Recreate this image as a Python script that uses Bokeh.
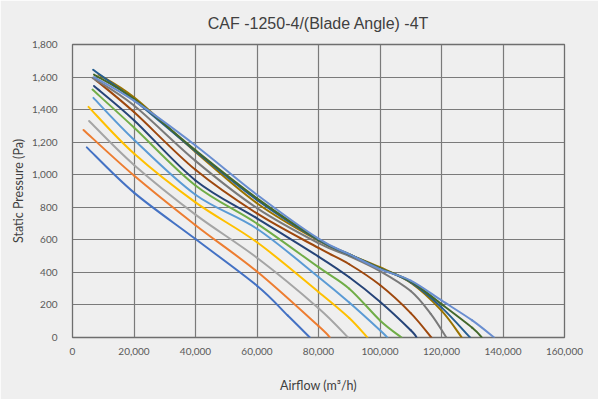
from bokeh.plotting import figure
from bokeh.models import NumeralTickFormatter, FixedTicker, Range1d
from bokeh.embed import file_html
from bokeh.resources import INLINE

colors = ["#4472C4", "#ED7D31", "#A5A5A5", "#FFC000", "#5B9BD5", "#70AD47",
          "#264478", "#9E480E", "#7A7A7A", "#997300", "#255E91", "#43682B", "#698ED0"]

c1_x = [4650, 20000, 40000, 60000, 70000, 77200]
c1_y = [1168, 890, 605, 318, 135, 0]
c2_x = [3580, 20000, 40000, 60000, 80000, 83700]
c2_y = [1275, 995, 690, 405, 70, 0]
c3_x = [5400, 20000, 40000, 60000, 80000, 89600]
c3_y = [1330, 1060, 755, 490, 180, 0]
c4_x = [5200, 20000, 40000, 60000, 80000, 90000, 95900]
c4_y = [1417, 1130, 830, 585, 280, 120, 0]
c5_x = [6800, 20000, 40000, 60000, 80000, 90000, 100000, 102400]
c5_y = [1472, 1215, 877, 668, 372, 215, 45, 0]
c6_x = [6500, 20000, 40000, 60000, 80000, 90000, 100000, 107000]
c6_y = [1523, 1290, 934, 700, 432, 300, 105, 0]
c7_x = [7000, 20000, 40000, 60000, 80000, 90000, 100000, 110000, 111900]
c7_y = [1545, 1335, 965, 732, 497, 370, 220, 45, 0]
c8_x = [7250, 20000, 40000, 60000, 80000, 90000, 100000, 110000, 116700]
c8_y = [1587, 1385, 1030, 762, 550, 450, 322, 150, 0]
c9_x = [6500, 20000, 40000, 60000, 80000, 90000, 100000, 110000, 116500, 121600]
c9_y = [1595, 1425, 1085, 795, 580, 500, 408, 285, 145, 0]
c10_x = [8500, 20000, 40000, 60000, 80000, 90000, 100000, 110000, 120000, 126600]
c10_y = [1615, 1475, 1140, 825, 595, 510, 432, 336, 165, 0]
c11_x = [6700, 20000, 40000, 60000, 80000, 90000, 100000, 110000, 120000, 129300]
c11_y = [1645, 1460, 1145, 845, 598, 510, 425, 340, 185, 0]
c12_x = [7000, 20000, 40000, 60000, 80000, 90000, 100000, 110000, 120000, 130000, 133100]
c12_y = [1615, 1465, 1150, 855, 602, 512, 425, 345, 205, 60, 0]
c13_x = [7000, 20000, 40000, 60000, 80000, 90000, 100000, 110000, 120000, 130000, 137100]
c13_y = [1600, 1455, 1180, 877, 607, 512, 420, 350, 228, 105, 0]

series = [(c1_x, c1_y), (c2_x, c2_y), (c3_x, c3_y), (c4_x, c4_y), (c5_x, c5_y),
          (c6_x, c6_y), (c7_x, c7_y), (c8_x, c8_y), (c9_x, c9_y), (c10_x, c10_y),
          (c11_x, c11_y), (c12_x, c12_y), (c13_x, c13_y)]

x_ticks = [0, 20000, 40000, 60000, 80000, 100000, 120000, 140000, 160000]
y_ticks = [0, 200, 400, 600, 800, 1000, 1200, 1400, 1600, 1800]

BG = "#efefef"
p = figure(width=598, height=399, output_backend="svg", toolbar_location=None,
           x_range=Range1d(0, 160000), y_range=Range1d(0, 1800),
           title="CAF -1250-4/(Blade Angle) -4T",
           min_border_left=72, min_border_right=34, min_border_top=42, min_border_bottom=62)
p.background_fill_color = BG
p.border_fill_color = BG
p.outline_line_color = "#6e6e6e"
p.outline_line_width = 1.3

p.title.align = "center"
p.title.text_font = "Liberation Sans"
p.title.text_font_size = "16px"
p.title.text_font_style = "normal"
p.title.text_color = "#404040"
p.title.offset = -14
p.title.standoff = 25


def smooth_segments(xs, ys):
    # smoothed-line rendering (as in the source chart): cubic Bezier per segment
    n = len(xs)
    out = {k: [] for k in ("x0", "y0", "x1", "y1", "cx0", "cy0", "cx1", "cy1")}
    for i in range(n - 1):
        xa, ya = xs[max(i - 1, 0)], ys[max(i - 1, 0)]
        xb, yb = xs[i], ys[i]
        xc, yc = xs[i + 1], ys[i + 1]
        xd, yd = xs[min(i + 2, n - 1)], ys[min(i + 2, n - 1)]
        out["x0"].append(xb); out["y0"].append(yb)
        out["x1"].append(xc); out["y1"].append(yc)
        out["cx0"].append(xb + (xc - xa) / 6.0); out["cy0"].append(yb + (yc - ya) / 6.0)
        out["cx1"].append(xc - (xd - xb) / 6.0); out["cy1"].append(yc - (yd - yb) / 6.0)
    return out


for (xs, ys), c in zip(series, colors):
    s = smooth_segments(xs, ys)
    p.bezier(x0=s["x0"], y0=s["y0"], x1=s["x1"], y1=s["y1"],
             cx0=s["cx0"], cy0=s["cy0"], cx1=s["cx1"], cy1=s["cy1"],
             line_color=c, line_width=2, line_cap="round")

p.xaxis.ticker = FixedTicker(ticks=x_ticks)
p.yaxis.ticker = FixedTicker(ticks=y_ticks)
p.xaxis.formatter = NumeralTickFormatter(format="0,0")
p.yaxis.formatter = NumeralTickFormatter(format="0,0")
for ax in (p.xaxis[0], p.yaxis[0]):
    ax.axis_line_color = None
    ax.major_tick_line_color = None
    ax.minor_tick_line_color = None
    ax.major_label_text_font = "Lato"
    ax.major_label_text_font_size = "10px"
    ax.major_label_text_color = "#595959"
    ax.axis_label_text_font = "Lato"
    ax.axis_label_text_font_size = "12.5px"
    ax.axis_label_text_font_style = "normal"
    ax.axis_label_text_color = "#404040"
p.xaxis.axis_label = "Airflow (m³/h)"
p.yaxis.axis_label = "Static Pressure (Pa)"
p.xaxis.major_label_standoff = 4
p.yaxis.major_label_standoff = 9
p.xaxis.axis_label_standoff = 20
p.yaxis.axis_label_standoff = 3

p.xgrid.grid_line_color = "#7a7a7a"
p.ygrid.grid_line_color = "#7a7a7a"
p.xgrid.grid_line_width = 1.2
p.ygrid.grid_line_width = 1.2

html = file_html(p, INLINE)
open("out.html", "w").write(html)
